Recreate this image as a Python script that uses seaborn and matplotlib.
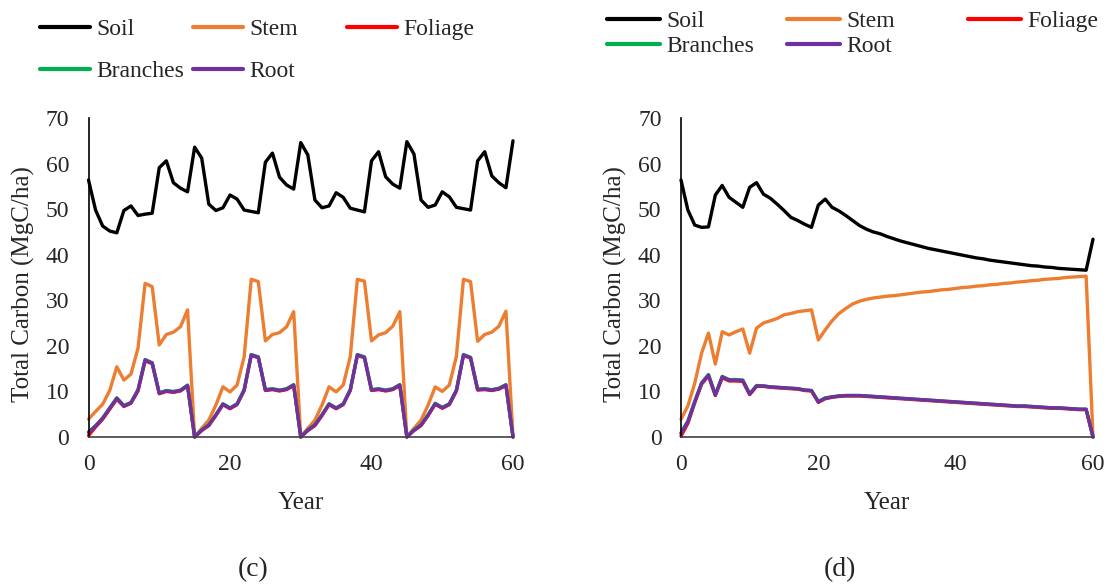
import numpy as np
import pandas as pd
import seaborn as sns
import matplotlib
matplotlib.use("Agg")
import matplotlib.pyplot as plt
from matplotlib.lines import Line2D

# ---------------- data ----------------
years = list(range(61))
components = ["Soil", "Stem", "Foliage", "Branches", "Root"]
colors = ["#000000", "#ED7D31", "#FF0000", "#00B050", "#7030A0"]

left_soil = [56.4, 49.8, 46.3, 45.2, 44.8, 49.7, 50.7, 48.6, 48.9, 49.1, 59.1, 60.6, 55.8, 54.6, 53.8,
             63.6, 61.2, 51.1, 49.7, 50.3, 53.1, 52.2, 49.8, 49.5, 49.2, 60.3, 62.3, 57.0, 55.3, 54.4,
             64.6, 61.9, 52.0, 50.3, 50.7, 53.6, 52.6, 50.2, 49.8, 49.4, 60.6, 62.6, 57.1, 55.5, 54.6,
             64.8, 62.1, 52.0, 50.4, 50.9, 53.8, 52.7, 50.4, 50.1, 49.8, 60.6, 62.6, 57.3, 55.8, 54.7, 65.0]
left_stem = [3.9, 5.6, 7.2, 10.2, 15.4, 12.5, 13.8, 19.5, 33.7, 33.0, 20.2, 22.5, 23.0, 24.2, 27.9,
             0.0, 1.9, 3.7, 7.0, 11.0, 9.9, 11.4, 17.6, 34.6, 34.1, 21.1, 22.5, 22.9, 24.2, 27.5,
             0.0, 1.9, 3.7, 7.0, 11.0, 9.9, 11.4, 17.6, 34.6, 34.2, 21.1, 22.4, 22.9, 24.3, 27.5,
             0.0, 1.9, 3.7, 7.0, 11.0, 10.0, 11.4, 17.7, 34.6, 34.1, 21.0, 22.5, 23.0, 24.3, 27.6, 0.0]
left_foliage = [0.3, 2.2, 3.9, 6.1, 8.3, 6.7, 7.4, 10.1, 16.7, 16.1, 9.5, 10.0, 9.8, 10.1, 11.2,
                0.0, 1.4, 2.5, 4.7, 7.1, 6.2, 7.1, 10.2, 17.9, 17.4, 10.2, 10.4, 10.1, 10.4, 11.3,
                0.0, 1.4, 2.5, 4.7, 7.1, 6.2, 7.1, 10.2, 17.9, 17.4, 10.2, 10.4, 10.1, 10.4, 11.3,
                0.0, 1.4, 2.5, 4.7, 7.2, 6.3, 7.1, 10.1, 17.9, 17.3, 10.3, 10.4, 10.2, 10.5, 11.3, 0.0]
left_branches = [1.1, 2.5, 4.2, 6.4, 8.6, 6.9, 7.6, 10.4, 17.0, 16.3, 9.7, 10.2, 10.0, 10.3, 11.4,
                 0.0, 1.6, 2.7, 4.9, 7.3, 6.4, 7.3, 10.4, 18.1, 17.6, 10.4, 10.6, 10.3, 10.6, 11.5,
                 0.0, 1.6, 2.7, 4.9, 7.3, 6.4, 7.3, 10.4, 18.1, 17.6, 10.4, 10.6, 10.3, 10.6, 11.5,
                 0.0, 1.6, 2.7, 4.9, 7.4, 6.5, 7.3, 10.3, 18.1, 17.5, 10.5, 10.6, 10.4, 10.7, 11.5, 0.0]
left_root = [1.0, 2.4, 4.1, 6.3, 8.5, 6.8, 7.5, 10.3, 16.9, 16.2, 9.6, 10.1, 9.9, 10.2, 11.3,
             0.0, 1.5, 2.6, 4.8, 7.2, 6.3, 7.2, 10.3, 18.0, 17.5, 10.3, 10.5, 10.2, 10.5, 11.4,
             0.0, 1.5, 2.6, 4.8, 7.2, 6.3, 7.2, 10.3, 18.0, 17.5, 10.3, 10.5, 10.2, 10.5, 11.4,
             0.0, 1.5, 2.6, 4.8, 7.3, 6.4, 7.2, 10.2, 18.0, 17.4, 10.4, 10.5, 10.3, 10.6, 11.4, 0.0]

right_soil = [56.4, 49.8, 46.5, 46.0, 46.1, 53.1, 55.2, 52.6, 51.5, 50.4,
              54.8, 55.8, 53.3, 52.4, 51.1, 49.7, 48.2, 47.5, 46.7, 46.0,
              50.9, 52.2, 50.4, 49.6, 48.6, 47.5, 46.4, 45.6, 45.0, 44.6,
              44.0, 43.5, 43.0, 42.6, 42.2, 41.8, 41.4, 41.1, 40.8, 40.5,
              40.2, 39.9, 39.6, 39.3, 39.1, 38.8, 38.6, 38.4, 38.2, 38.0,
              37.8, 37.6, 37.5, 37.3, 37.2, 37.0, 36.9, 36.8, 36.7, 36.6, 43.4]
right_stem = [3.9, 6.8, 11.8, 18.4, 22.8, 16.0, 23.1, 22.4, 23.1, 23.7,
              18.4, 23.9, 25.0, 25.5, 26.0, 26.8, 27.1, 27.5, 27.7, 27.9,
              21.3, 23.5, 25.5, 27.1, 28.2, 29.2, 29.8, 30.2, 30.5, 30.7,
              30.9, 31.0, 31.2, 31.4, 31.6, 31.8, 31.9, 32.1, 32.3, 32.4,
              32.6, 32.8, 32.9, 33.1, 33.2, 33.4, 33.5, 33.7, 33.8, 34.0,
              34.1, 34.3, 34.4, 34.6, 34.7, 34.8, 35.0, 35.1, 35.2, 35.3, 0.0]
right_foliage = [0.2, 3.0, 7.5, 11.6, 13.4, 9.1, 13.0, 12.3, 12.3, 12.2,
                 9.3, 11.1, 11.1, 10.9, 10.8, 10.7, 10.6, 10.5, 10.2, 10.1,
                 7.6, 8.4, 8.7, 8.9, 9.0, 9.0, 9.0, 8.9, 8.8, 8.7,
                 8.6, 8.5, 8.4, 8.3, 8.2, 8.1, 8.0, 7.9, 7.8, 7.7,
                 7.6, 7.5, 7.4, 7.3, 7.2, 7.1, 7.0, 6.9, 6.8, 6.7,
                 6.7, 6.6, 6.5, 6.4, 6.3, 6.3, 6.2, 6.1, 6.0, 6.0, 0.0]
right_branches = [0.9, 3.5, 7.8, 11.9, 13.7, 9.3, 13.3, 12.6, 12.6, 12.5,
                  9.5, 11.3, 11.2, 11.0, 10.9, 10.8, 10.7, 10.6, 10.3, 10.2,
                  7.8, 8.6, 8.8, 9.0, 9.1, 9.1, 9.1, 9.0, 8.9, 8.8,
                  8.7, 8.6, 8.5, 8.4, 8.3, 8.2, 8.1, 8.0, 7.9, 7.8,
                  7.7, 7.6, 7.5, 7.4, 7.3, 7.2, 7.1, 7.0, 6.9, 6.8,
                  6.8, 6.7, 6.6, 6.5, 6.4, 6.4, 6.3, 6.2, 6.1, 6.1, 0.0]
right_root = [0.8, 3.4, 7.7, 11.8, 13.6, 9.2, 13.2, 12.5, 12.5, 12.4,
              9.4, 11.2, 11.2, 11.0, 10.9, 10.8, 10.7, 10.6, 10.3, 10.2,
              7.7, 8.5, 8.8, 9.0, 9.1, 9.1, 9.1, 9.0, 8.9, 8.8,
              8.7, 8.6, 8.5, 8.4, 8.3, 8.2, 8.1, 8.0, 7.9, 7.8,
              7.7, 7.6, 7.5, 7.4, 7.3, 7.2, 7.1, 7.0, 6.9, 6.8,
              6.8, 6.7, 6.6, 6.5, 6.4, 6.4, 6.3, 6.2, 6.1, 6.1, 0.0]

x_ticks = [0, 20, 40, 60]
y_ticks = [0, 10, 20, 30, 40, 50, 60, 70]
panel_labels = ["(c)", "(d)"]

# ---------------- style ----------------
sns.set_style("white")
plt.rcParams["font.family"] = ["Liberation Serif", "DejaVu Serif"]

W, H = 1108, 585
fig = plt.figure(figsize=(W / 100, H / 100), dpi=100)
FS = 17
FS_PX = FS * 100 / 72

palette = dict(zip(components, colors))


def long_df(series):
    rows = []
    for comp, vals in zip(components, series):
        for yr, v in zip(years, vals):
            rows.append((yr, v, comp))
    return pd.DataFrame(rows, columns=["Year", "Carbon", "Component"])


panels = [
    dict(rect=(88.5, 118, 513, 437), data=[left_soil, left_stem, left_foliage, left_branches, left_root],
         ylab_x=23, cap=(253, 570)),
    dict(rect=(681, 118, 1093, 437), data=[right_soil, right_stem, right_foliage, right_branches, right_root],
         ylab_x=615, cap=(840, 570)),
]

for p, cap_text in zip(panels, panel_labels):
    x0, y0, x1, y1 = p["rect"]
    ax = fig.add_axes([x0 / W, (H - y1) / H, (x1 - x0) / W, (y1 - y0) / H])
    df = long_df(p["data"])
    sns.lineplot(data=df, x="Year", y="Carbon", hue="Component", hue_order=components,
                 palette=palette, legend=False, linewidth=2.4, estimator=None, sort=False, ax=ax)
    for ln in ax.get_lines():
        ln.set_clip_on(False)
        ln.set_solid_joinstyle("round")
    ax.set_xlim(0, 60)
    ax.set_ylim(0, 70)
    ax.set_xticks(x_ticks)
    ax.set_yticks(y_ticks)
    ax.tick_params(axis="both", length=0, labelsize=FS)
    ax.tick_params(axis="y", pad=14)
    ax.tick_params(axis="x", pad=12)
    for s in ["top", "right"]:
        ax.spines[s].set_visible(False)
    ax.spines["left"].set_color("#000000")
    ax.spines["left"].set_linewidth(1.2)
    ax.spines["bottom"].set_color("#404040")
    ax.spines["bottom"].set_linewidth(1.2)
    ax.set_facecolor("none")
    ax.set_xlabel("Year", fontsize=FS + 1)
    ax.xaxis.label.set_va("center")
    ax.xaxis.set_label_coords(0.5, (y1 - 503) / (y1 - y0))
    ax.set_ylabel("Total Carbon (MgC/ha)", fontsize=FS + 1)
    ax.yaxis.label.set_va("center")
    ax.yaxis.set_label_coords((p["ylab_x"] - x0) / (x1 - x0), (y1 - 284) / (y1 - y0))
    fig.text(p["cap"][0] / W, 1 - p["cap"][1] / H, cap_text, ha="center", va="center", fontsize=20)


def add_entry(color, label, x, y, hlen):
    h = Line2D([], [], color=color, lw=3.0, solid_capstyle="round")
    fig.legend([h], [label], loc="center left", bbox_to_anchor=(x / W, 1 - y / H),
               bbox_transform=fig.transFigure, frameon=False, borderpad=0, borderaxespad=0,
               handlelength=hlen / FS_PX, handletextpad=0.25, fontsize=FS)


left_pos = [(40, 29), (193, 29), (347, 29), (40, 71), (193, 71)]
right_pos = [(607, 21), (787, 21), (968, 21), (607, 46), (787, 46)]
for comp, col, (x, y) in zip(components, colors, left_pos):
    add_entry(col, comp, x, y, 50)
for comp, col, (x, y) in zip(components, colors, right_pos):
    add_entry(col, comp, x, y, 53)

fig.savefig("out.png", dpi=100, facecolor="white")
